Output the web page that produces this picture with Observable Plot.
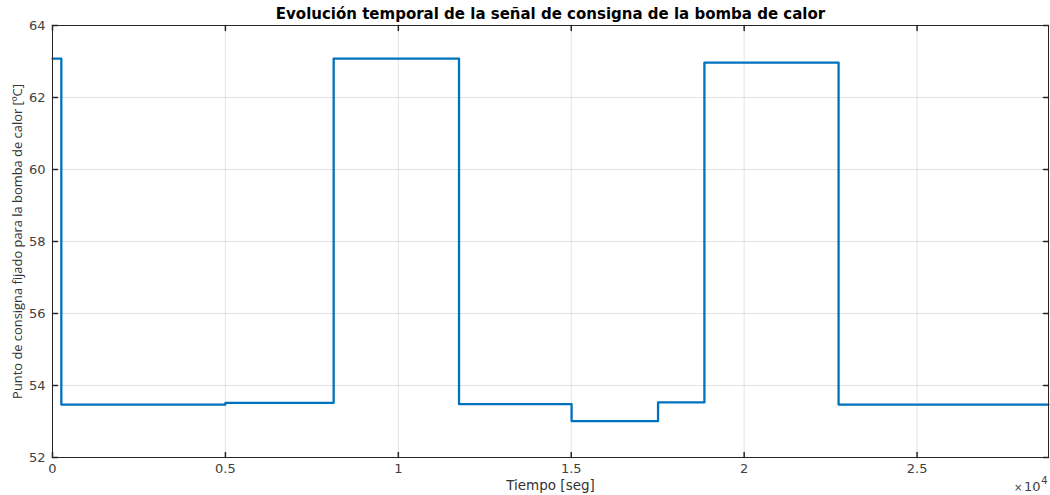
<!DOCTYPE html>
<html>
<head>
<meta charset="utf-8">
<script src="https://cdn.jsdelivr.net/npm/d3@7"></script>
<script src="https://cdn.jsdelivr.net/npm/@observablehq/plot@0.6"></script>
<style>
  html, body { margin: 0; padding: 0; background: #fff; }
  #chart svg { display: block; }
</style>
</head>
<body>
<div id="chart"></div>
<script>
// Step signal: time (s) at which each level starts, and its value (ºC)
const times  = [0, 255, 5000, 8130, 11755, 15010, 17510, 18850, 22730, 28800];
const values = [63.08, 53.47, 53.52, 63.08, 53.48, 53.01, 53.53, 62.97, 53.47, 53.47];

const xTicks = [0, 5000, 10000, 15000, 20000, 25000];
const xTickLabels = ["0", "0.5", "1", "1.5", "2", "2.5"];
const yTicks = [52, 54, 56, 58, 60, 62, 64];

const title = "Evolución temporal de la señal de consigna de la bomba de calor";
const xLabel = "Tiempo [seg]";
const yLabel = "Punto de consigna fijado para la bomba de calor [ºC]";
const xExpTimes = "×";
const xExpBase = "10";
const xExpPower = "4";

const data = times.map((t, i) => ({t, v: values[i]}));

const tickShape = {draw(ctx, l) { ctx.moveTo(0, 0); ctx.lineTo(0, -l); }};
const axisColor = "#262626";
const tickLen = 5;

const chart = Plot.plot({
  width: 1050,
  height: 495,
  marginLeft: 52,
  marginRight: 2,
  marginTop: 25,
  marginBottom: 38,
  style: {fontFamily: "DejaVu Sans, sans-serif", fontSize: "12.5px", color: "#333", background: "#fff"},
  x: {domain: [0, 28800]},
  y: {domain: [52, 64]},
  marks: [
    Plot.gridX(xTicks, {stroke: "#000", strokeOpacity: 0.11}),
    Plot.gridY(yTicks, {stroke: "#000", strokeOpacity: 0.11}),
    Plot.line(data, {x: "t", y: "v", curve: "step-after", stroke: "#0072BD", strokeWidth: 2.3}),
    Plot.frame({stroke: axisColor, strokeWidth: 1}),
    // inward ticks on all four sides
    Plot.vector(xTicks, {x: d => d, frameAnchor: "bottom", length: tickLen, rotate: 0, anchor: "start", shape: tickShape, stroke: axisColor}),
    Plot.vector(xTicks, {x: d => d, frameAnchor: "top", length: tickLen, rotate: 180, anchor: "start", shape: tickShape, stroke: axisColor}),
    Plot.vector(yTicks, {y: d => d, frameAnchor: "left", length: tickLen, rotate: 90, anchor: "start", shape: tickShape, stroke: axisColor}),
    Plot.vector(yTicks, {y: d => d, frameAnchor: "right", length: tickLen, rotate: -90, anchor: "start", shape: tickShape, stroke: axisColor}),
    Plot.axisX(xTicks, {tickSize: 0, tickPadding: 6, tickFormat: (d, i) => xTickLabels[i], fontSize: 13, fill: "#404040",
      label: null}),
    Plot.axisY(yTicks, {tickSize: 0, tickPadding: 7, fontSize: 13, fill: "#404040", label: null}),
    Plot.text([xLabel], {frameAnchor: "bottom", lineAnchor: "middle", textAnchor: "middle", dy: 28, fontSize: 13.5, fill: "#333"}),
    Plot.text([yLabel], {frameAnchor: "left", lineAnchor: "middle", textAnchor: "middle", dx: -35, rotate: -90, fontSize: 12.9, fontFamily: "Open Sans, sans-serif", fill: "#333"}),
    Plot.text([title], {frameAnchor: "top", lineAnchor: "middle", textAnchor: "middle", dy: -11, fontWeight: "bold", fontSize: 15, fill: "#000"}),
    Plot.text([xExpTimes], {frameAnchor: "bottom-right", lineAnchor: "middle", textAnchor: "end", dx: -26, dy: 30, fontSize: 10, fill: "#404040"}),
    Plot.text([xExpBase], {frameAnchor: "bottom-right", lineAnchor: "middle", textAnchor: "end", dx: -8, dy: 29, fontSize: 13, fill: "#404040"}),
    Plot.text([xExpPower], {frameAnchor: "bottom-right", lineAnchor: "middle", textAnchor: "end", dx: -1, dy: 23, fontSize: 10, fill: "#404040"})
  ]
});
document.getElementById("chart").appendChild(chart);
</script>
</body>
</html>
